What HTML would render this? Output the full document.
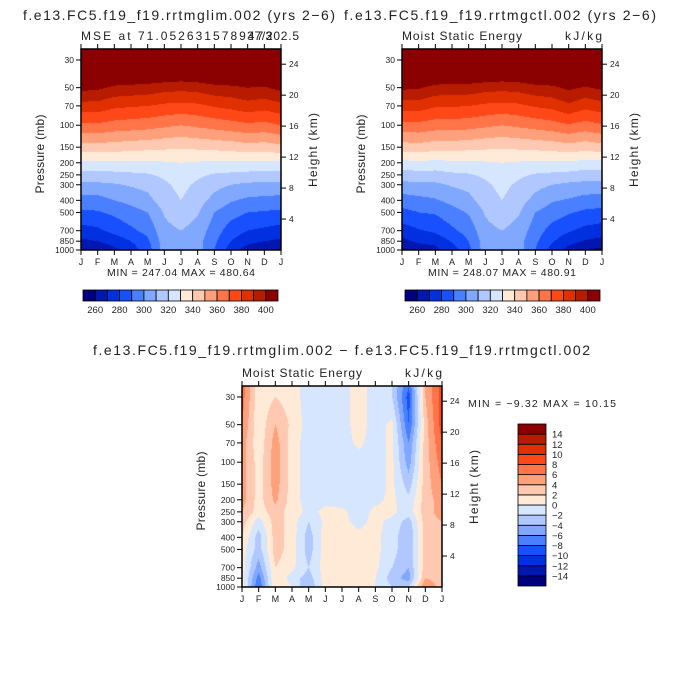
<!DOCTYPE html>
<html><head><meta charset="utf-8">
<style>
html,body{margin:0;padding:0;background:#fff;}
#root{position:relative;width:684px;height:684px;overflow:hidden;font-family:"Liberation Sans",sans-serif;}
canvas{position:absolute;}
svg{position:absolute;left:0;top:0;}
</style></head>
<body>
<div id="root">
<canvas id="c1" width="200" height="201" style="left:81px;top:49px"></canvas>
<canvas id="c2" width="200" height="201" style="left:402px;top:49px"></canvas>
<canvas id="c3" width="200" height="201" style="left:242px;top:386px"></canvas>
<svg id="ov" width="684" height="684"></svg>
</div>
<script>
const levelsP = [25,30,50,70,100,150,200,250,300,400,500,700,850,1000];
const monthLabels = ["J","F","M","A","M","J","J","A","S","O","N","D","J"];
const pTicks = [30,50,70,100,150,200,250,300,400,500,700,850,1000];
const zTicks = [4,8,12,16,20,24];
const cbLabelsAbs = [260,280,300,320,340,360,380,400];
const cbLabelsDiff = [14,12,10,8,6,4,2,0,-2,-4,-6,-8,-10,-12,-14];
const palette = ["#00007f","#0018b0","#0030e0","#1850ff","#4a80ff","#80a8ff","#b0c8ff","#d6e6ff","#ffead8","#ffc8b0","#ffa07c","#ff7448","#ff4818","#e03000","#b81c00","#8b0000"];
const mseLim = [
[430,430,430,430,430,430,430,430,430,430,430,430,430],
[425,425,425,425,425,425,424,425,425,425,425,425,425],
[403,402,398,397,396,394,393,394,397,398,400,399,403],
[386,386,382,381,380,378,377,378,381,383,386,384,387],
[368,368,366,365,364,362,360,362,364,366,368,367,370],
[346,346,345,344,343,342,341,342,343,344,346,345,347],
[328,328,328,328,328,329,330,329,328,328,328,328,328],
[316,316,317,318,319,322,326,322,319,318,317,316,316],
[308,308,309,311,313,318,323,318,313,310,308,308,308],
[296,296,300,303,307,315,320,314,307,301,298,297,296],
[288,289,292,296,300,311,316,311,300,294,290,289,288],
[276,278,283,288,293,307,310,306,295,285,280,278,276],
[268,270,274,280,288,305,307,304,292,280,273,270,268],
[258,262,268,275,285,305,306,304,290,275,265,262,258]];
const mseCtl = [
[430,430,430,430,430,430,430,430,430,430,430,430,430],
[425,425,425,425,425,425,424,425,425,425,425,425,425],
[402,401,397,396,396,394,393,394,397,398,402,399,402],
[385,385,381,381,380,378,377,378,381,383,388,383,386],
[367,367,365,365,364,362,360,362,364,366,369,366,369],
[345,346,344,344,343,342,341,342,343,344,346,344,346],
[327,328,327,328,328,329,330,329,328,328,328,327,327],
[315,316,316,318,319,322,326,322,319,318,317,315,315],
[307,308,308,311,313,318,323,318,313,310,308,307,307],
[295,297,299,303,307,315,320,314,307,301,299,296,295],
[287,290,291,296,301,311,316,311,300,295,291,288,287],
[275,279,282,288,294,307,310,306,295,286,281,277,275],
[267,272,273,281,290,305,307,304,292,281,274,269,267],
[257,264,267,275,287,305,306,304,290,276,266,260,257]];
const mseDiff = [
[7,0.5,2,1,-1,-1,-1,1,-1,-2,-8,4,9],
[7,0.5,2,1,-1,-1,-1,1,-1,-2,-9,4,9],
[6,0.5,4,1.5,-1,-1,-1,1,-1,0.5,-8,3,9],
[5,0.5,5,1,-1,-1,-1,0.5,-1,0.5,-6,3,8],
[5,1,5,1,-1,-1,-1,-1,-1,0.5,-5,3,7],
[5,1,5,1,-1,-1,-1,-1,-1,0.5,-3,3,6],
[5,1,4.5,1,-1,-0.5,-1,-1,-0.5,0.5,-1.5,3,5],
[4,1,3,1,-0.5,0.5,0.5,-1,0.5,0.5,-1,3,5],
[3,-1,3,1,-2,0.5,0.5,-0.5,0.5,-0.5,-3,3,4],
[2,-3,3,1,-3,1,1,0.5,0.5,-1,-4,3,3],
[1,-3,3,1,-3,1,1,1,0.5,-1,-4,3,3],
[1,-5,2,0.5,-2,1,1,1,0.5,-2,-4,3,3],
[1,-7,2,-1,-3,1,1,1,0,-3,-5,4,3],
[1,-8,2,0,-4,1,1,1,0,-2,-2,6,3]];

const W=200,H=201,PTOP=24.5,PBOT=1000;
function yOfP(p){return H*Math.log(p/PTOP)/Math.log(PBOT/PTOP);}
function xOfM(m){return W*m/12;}
function pOfZ(z){return 1000*Math.exp(-z/7);}
function sample(grid,m,p){
  let mi=Math.min(11,Math.floor(m)),fm=m-mi;
  let lp=Math.log(p),k=0;
  while(k<levelsP.length-2 && Math.log(levelsP[k+1])<lp)k++;
  let a=Math.log(levelsP[k]),b=Math.log(levelsP[k+1]);
  let fp=Math.max(0,Math.min(1,(lp-a)/(b-a)));
  let v0=grid[k][mi]*(1-fm)+grid[k][mi+1]*fm;
  let v1=grid[k+1][mi]*(1-fm)+grid[k+1][mi+1]*fm;
  return v0*(1-fp)+v1*fp;
}
function hex(c){return [parseInt(c.substr(1,2),16),parseInt(c.substr(3,2),16),parseInt(c.substr(5,2),16)];}
const pal=palette.map(hex);
function draw(id,grid,idxFn){
  const cv=document.getElementById(id),ctx=cv.getContext('2d');
  const im=ctx.createImageData(W,H);
  for(let y=0;y<H;y++){
    const p=PTOP*Math.exp((y+0.5)/H*Math.log(PBOT/PTOP));
    for(let x=0;x<W;x++){
      const m=(x+0.5)/W*12;
      let i=idxFn(sample(grid,m,p));i=Math.max(0,Math.min(15,i));
      const o=(y*W+x)*4,c=pal[i];
      im.data[o]=c[0];im.data[o+1]=c[1];im.data[o+2]=c[2];im.data[o+3]=255;
    }
  }
  ctx.putImageData(im,0,0);
}
draw('c1',mseLim,v=>Math.floor((v-250)/10));
draw('c2',mseCtl,v=>Math.floor((v-250)/10));
draw('c3',mseDiff,v=>Math.floor((v+16)/2));

const svg=document.getElementById('ov');
const NS='http://www.w3.org/2000/svg';
function el(tag,attrs,parent){const e=document.createElementNS(NS,tag);for(const k in attrs)e.setAttribute(k,attrs[k]);(parent||svg).appendChild(e);return e;}
function txt(x,y,s,size,anchor,parent,rot,len){
  const t=el('text',{x:x,y:y,'font-size':size,'text-anchor':anchor||'start',fill:'#222','font-family':'Liberation Sans, sans-serif'},parent);
  if(len){t.setAttribute('textLength',len);t.setAttribute('lengthAdjust','spacing');}
  if(rot)t.setAttribute('transform','rotate(-90 '+x+' '+y+')');
  t.textContent=s;return t;
}
function panel(ox,oy,name,left,right,title,minmax,lens){
  const g=el('g',{});
  
  
  el('rect',{x:ox,y:oy,width:W,height:H,fill:'none',stroke:'#000','stroke-width':1.5},g);
  monthLabels.forEach((m,i)=>{
    const x=ox+xOfM(i);
    el('line',{x1:x,y1:oy+H,x2:x,y2:oy+H+5,stroke:'#000'},g);
    el('line',{x1:x,y1:oy,x2:x,y2:oy-5,stroke:'#000'},g);
    const t=txt(x,oy+H+15,m,9,'middle',g);
    
  });
  pTicks.forEach(p=>{
    const y=oy+yOfP(p);
    el('line',{x1:ox,y1:y,x2:ox-5,y2:y,stroke:'#000'},g);
    const t=txt(ox-7,y+3,String(p),8.5,'end',g);
    
  });
  zTicks.forEach(z=>{
    const y=oy+yOfP(pOfZ(z));
    el('line',{x1:ox+W,y1:y,x2:ox+W+5,y2:y,stroke:'#000'},g);
    const t=txt(ox+W+8,y+3,String(z),8.5,'start',g);
    
  });
  const py=txt(ox-37,oy+105,'Pressure (mb)',12,'middle',g,true,79);
  
  const hz=txt(ox+W+36,oy+101,'Height (km)',12,'middle',g,true,74);
  
  const l=txt(ox,oy-9,left,12,'start',g,false,lens[0]);
  
  const r=txt(ox+W+lens[2],oy-9,right,12,'end',g,false,lens[1]);
  
  const tt=txt(title[1],title[2],title[0],14,'middle',g,false,title[3]);
  
  if(minmax){const mm=txt(ox+W/2,oy+H+26,minmax,10.5,'middle',g,false,148);
    }
}
panel(81,49,'panel-lim','MSE at 71.0526315789473','37/202.5',['f.e13.FC5.f19_f19.rrtmglim.002 (yrs 2\u22126)',179,20,312],'MIN = 247.04  MAX = 480.64',[191,52,18]);
panel(402,49,'panel-ctl','Moist Static Energy','kJ/kg',['f.e13.FC5.f19_f19.rrtmgctl.002 (yrs 2\u22126)',500,20,312],'MIN = 248.07  MAX = 480.91',[120,37,0]);
panel(242,386,'panel-diff','Moist Static Energy','kJ/kg',['f.e13.FC5.f19_f19.rrtmglim.002 \u2212 f.e13.FC5.f19_f19.rrtmgctl.002',341.5,355,497],null,[120,37,0]);
const mmd=txt(468,407,'MIN =   \u22129.32  MAX =   10.15',10.5,'start',null,false,148);


function hbar(x0,name){
  const g=el('g',{});
  
  
  const bw=195/16;
  palette.forEach((c,i)=>{
    const r=el('rect',{x:x0+i*bw,y:290,width:bw,height:11,fill:c,stroke:'#000','stroke-width':0.8},g);
    
  });
  cbLabelsAbs.forEach((v,j)=>{
    const t=txt(x0+(1+2*j)*bw,313,String(v),9.5,'middle',g);
    
  });
}
hbar(83,'colorbar-lim');
hbar(405,'colorbar-ctl');
(function(){
  const g=el('g',{});
  
  
  const bh=162/16;
  palette.forEach((c,i)=>{
    const r=el('rect',{x:518,y:424+(15-i)*bh,width:28,height:bh,fill:c,stroke:'#000','stroke-width':0.8},g);
    
  });
  cbLabelsDiff.forEach((v,j)=>{
    const t=txt(552,424+(j+1)*bh+3.5,(v<0?'\u2212'+(-v):String(v)),9.5,'start',g);
    
  });
})();
</script>
</body></html>
